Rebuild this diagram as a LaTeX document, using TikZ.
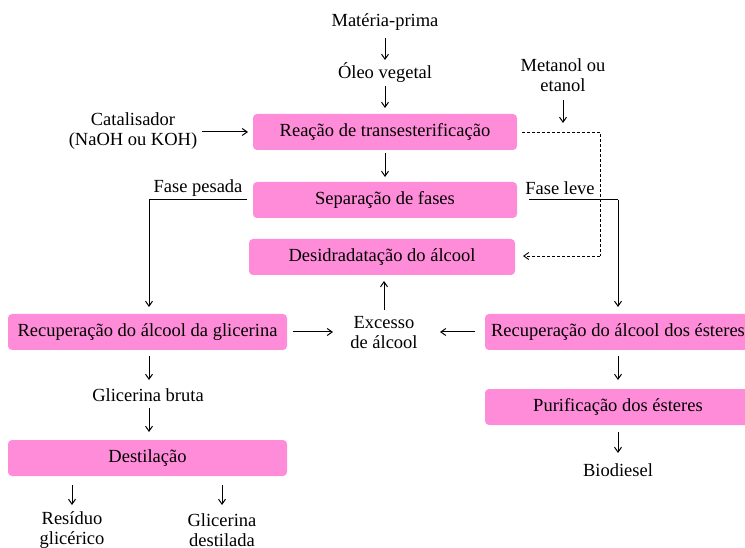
\documentclass[tikz,border=0pt]{standalone}
\usepackage{fontspec}
\setmainfont{Liberation Serif}
\usetikzlibrary{arrows.meta}
\definecolor{boxpink}{HTML}{FF8CD9}
\begin{document}
\begin{tikzpicture}[x=1pt,y=-1pt,
  font=\fontsize{18.5}{20}\selectfont,
  proc/.style={fill=boxpink,rounded corners=4pt,minimum height=36pt,inner sep=0pt},
  lbl/.style={align=center,inner sep=1pt},
  arr/.style={-{Straight Barb[length=5pt,width=7pt]},line width=1pt},
  ln/.style={line width=1pt},
  dashln/.style={dash pattern=on 3pt off 2pt,line width=0.9pt}]
\useasboundingbox (0,0) rectangle (745,548);
% process boxes
\node[proc,minimum width=264pt] (reac) at (385,132) {Reação de transesterificação};
\node[proc,minimum width=264pt] (sep) at (385,200) {Separação de fases};
\node[proc,minimum width=266pt] (des) at (382,257) {Desidradatação do álcool};
\node[proc,minimum width=279pt] (recg) at (147.5,332) {Recuperação do álcool da glicerina};
\node[proc,minimum width=266pt] (rece) at (618,332) {Recuperação do álcool dos ésteres};
\node[proc,minimum width=279pt] (dest) at (147.5,458) {Destilação};
\node[proc,minimum width=266pt] (pur) at (618,407) {Purificação dos ésteres};
% plain labels
\node[lbl] (mp) at (385,22) {Matéria-prima};
\node[lbl] (oleo) at (385,73) {Óleo vegetal};
\node[lbl] (cat) at (133,131) {Catalisador\\(NaOH ou KOH)};
\node[lbl] (met) at (563,75) {Metanol ou\\etanol};
\node[lbl] (exc) at (384,333) {Excesso\\de álcool};
\node[lbl] (gb) at (148,395) {Glicerina bruta};
\node[lbl] (res) at (72,530) {Resíduo\\glicérico};
\node[lbl] (gd) at (222,530) {Glicerina\\destilada};
\node[lbl] (bio) at (618,470) {Biodiesel};
\node[lbl] (fp) at (198,188) {Fase pesada};
\node[lbl] (fl) at (560,188) {Fase leve};
% main flow
\draw[arr] (385,38) -- (385,60);
\draw[arr] (385,86) -- (385,108);
\draw[arr] (202,132) -- (248,132);
\draw[arr] (563,100) -- (563,123);
\draw[arr] (385,153) -- (385,177);
\draw[dashln] (522,132) -- (600,132) coordinate (dc1) -- (600,256) coordinate (dc2);
\draw[dashln,-{Straight Barb[length=5pt,width=7pt]}] (dc2) -- (523,256);
\draw[ln] (247,200) -- (149,200) coordinate (fpc);
\draw[arr] (fpc) -- (149,307);
\draw[ln] (529,200) -- (618,200) coordinate (flc);
\draw[arr] (flc) -- (618,307);
\draw[arr] (384,310) -- (384,281);
\draw[arr] (293,332) -- (333,332);
\draw[arr] (475,332) -- (440,332);
\draw[arr] (149,356) -- (149,380);
\draw[arr] (149,408) -- (149,432);
\draw[arr] (72,485) -- (72,505);
\draw[arr] (222,485) -- (222,505);
\draw[arr] (618,356) -- (618,380);
\draw[arr] (618,432) -- (618,453);
\end{tikzpicture}
\end{document}
